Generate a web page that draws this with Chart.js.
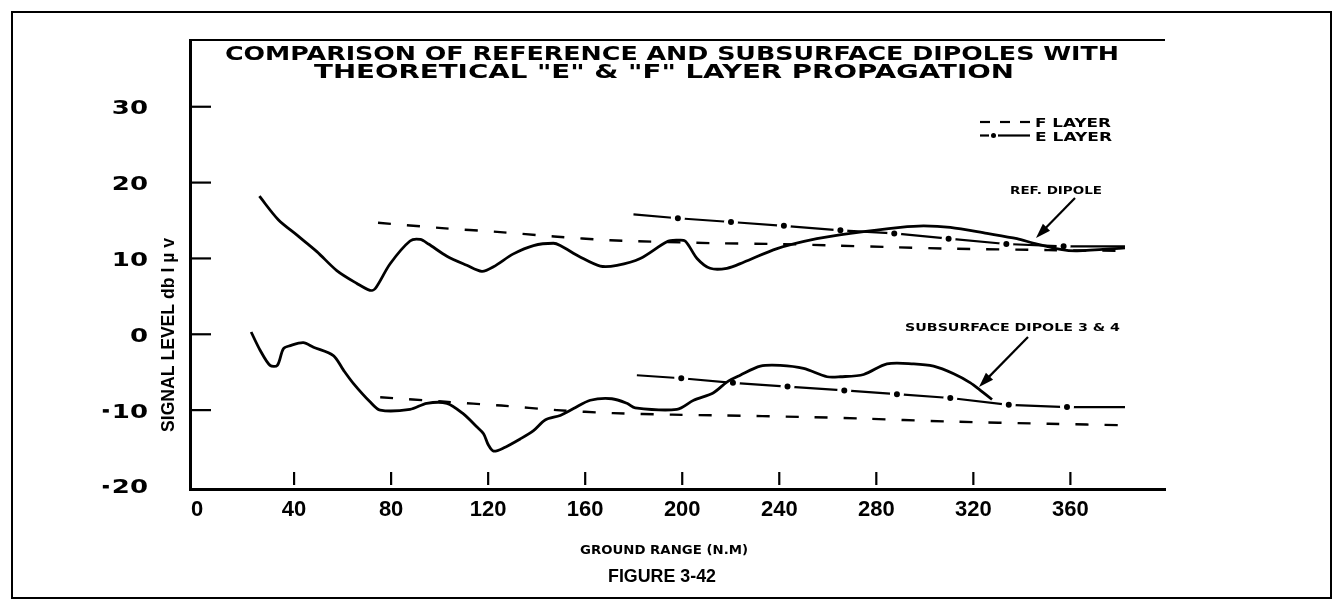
<!DOCTYPE html>
<html>
<head>
<meta charset="utf-8">
<script src="https://cdn.jsdelivr.net/npm/chart.js@4.4.0/dist/chart.umd.min.js"></script>
<style>
html, body { margin: 0; padding: 0; background: #fff; }
#wrap { width: 1343px; height: 610px; position: relative; }
</style>
</head>
<body>
<div id="wrap"><canvas id="c"></canvas></div>
<script>
// graduations
const xTicks = [0, 40, 80, 120, 160, 200, 240, 280, 320, 360];
const yTicks = [-20, -10, 0, 10, 20, 30];

// dipôle de référence (courbe pleine du haut)
const refX = [25.7, 33.5, 41.1, 49.4, 57.6, 65.9, 71.3, 73.4, 79.6, 87.8, 92, 95.4, 103, 111.2, 117.4, 122.2, 130.4, 138.7, 146.9, 149.7, 157.9, 166.2, 173.1, 182.7, 193.7, 197.8, 201.2, 206.1, 211.5, 218.4, 225.3, 239.1, 255.5, 269.3, 289.9, 299.5, 310.5, 325.6, 338, 344.9, 355.9, 362.8, 382.5];
const refY = [18.2, 15.1, 13.1, 10.9, 8.4, 6.7, 5.8, 6.0, 9.3, 12.3, 12.5, 11.9, 10.3, 9.1, 8.3, 8.9, 10.6, 11.7, 12.0, 11.7, 10.2, 9.0, 9.1, 10.0, 12.2, 12.4, 12.3, 10.0, 8.7, 8.7, 9.5, 11.3, 12.6, 13.3, 14.1, 14.3, 14.1, 13.3, 12.6, 12.0, 11.2, 11.0, 11.4];

// dipôle enterré 3 & 4 (courbe pleine du bas)
const subX = [22.3, 26, 30.1, 33.1, 35.6, 38.4, 43.8, 48, 56.2, 60.3, 64.5, 71.3, 75.5, 87.8, 94.7, 103, 109.8, 115.3, 118.1, 120.1, 122.2, 126.3, 133.2, 138.7, 143.5, 149.7, 155.2, 162.1, 171, 177.2, 180.6, 197.8, 204.7, 212.9, 218.4, 223.9, 232.2, 240.4, 250, 259.7, 265.2, 274.8, 284.4, 295.4, 303.6, 311.9, 318.8, 322.9, 327.7];
const subY = [0.3, -2.1, -4.1, -4.1, -1.9, -1.5, -1.1, -1.7, -2.8, -4.7, -6.5, -8.9, -10.0, -9.9, -9.1, -9.1, -10.5, -12.2, -13.1, -14.6, -15.4, -15.0, -13.8, -12.7, -11.3, -10.7, -9.8, -8.7, -8.5, -9.1, -9.7, -9.9, -8.7, -7.7, -6.3, -5.4, -4.2, -4.1, -4.5, -5.6, -5.6, -5.3, -3.9, -3.9, -4.2, -5.2, -6.4, -7.4, -8.6];

// couche F théorique
const fUpX = [74.6, 101, 123.7, 147.2, 170.3, 214.6, 240.4, 262.3, 285, 309.7, 350.9, 382.5];
const fUpY = [14.7, 14.0, 13.5, 12.9, 12.4, 12.0, 11.9, 11.7, 11.5, 11.3, 11.1, 11.0];
const fLoX = [75.5, 102.3, 125.4, 148.3, 171.5, 195.9, 216.5, 249.5, 273, 309.7, 351, 382.5];
const fLoY = [-8.3, -8.9, -9.4, -10.0, -10.4, -10.6, -10.7, -10.9, -11.1, -11.5, -11.8, -12.0];

// couche E théorique
const eUpX = [179.9, 198.2, 220.1, 241.9, 265.2, 287.4, 309.8, 333.6, 357.2, 382.5];
const eUpY = [15.8, 15.3, 14.8, 14.3, 13.7, 13.3, 12.6, 11.9, 11.6, 11.6];
const eLoX = [181.3, 199.6, 220.9, 243.4, 266.8, 288.5, 310.5, 334.6, 358.6, 382.5];
const eLoY = [-5.4, -5.8, -6.4, -6.9, -7.4, -7.9, -8.4, -9.3, -9.6, -9.6];

const pts = (xs, ys) => xs.map((x, i) => ({ x: x, y: ys[i] }));

// texte étiré horizontalement pour imiter la police large du document
function drawText(ctx, txt, x, y, font, sx, align) {
    ctx.save();
    ctx.font = font;
    ctx.textBaseline = 'alphabetic';
    ctx.textAlign = 'left';
    const w = ctx.measureText(txt).width * sx;
    const left = align === 'center' ? x - w / 2 : (align === 'right' ? x - w : x);
    ctx.translate(left, y);
    ctx.scale(sx, 1);
    ctx.fillStyle = '#000';
    ctx.fillText(txt, 0, 0);
    ctx.restore();
    return left;
}
function fitScale(ctx, txt, font, width) {
    ctx.save();
    ctx.font = font;
    const w = ctx.measureText(txt).width;
    ctx.restore();
    return width / w;
}
function arrow(ctx, x1, y1, x2, y2) {
    const a = Math.atan2(y2 - y1, x2 - x1);
    ctx.save();
    ctx.strokeStyle = '#000';
    ctx.lineWidth = 2.2;
    ctx.beginPath();
    ctx.moveTo(x1, y1);
    ctx.lineTo(x2 - 10 * Math.cos(a), y2 - 10 * Math.sin(a));
    ctx.stroke();
    ctx.fillStyle = '#000';
    ctx.beginPath();
    ctx.moveTo(x2, y2);
    ctx.lineTo(x2 - 15 * Math.cos(a) + 5 * Math.sin(a), y2 - 15 * Math.sin(a) - 5 * Math.cos(a));
    ctx.lineTo(x2 - 15 * Math.cos(a) - 5 * Math.sin(a), y2 - 15 * Math.sin(a) + 5 * Math.cos(a));
    ctx.closePath();
    ctx.fill();
    ctx.restore();
}

const decor = {
    id: 'decor',
    beforeDraw(chart) {
        const ctx = chart.ctx;
        const a = chart.chartArea;
        ctx.save();
        ctx.fillStyle = '#fff';
        ctx.fillRect(0, 0, chart.width, chart.height);
        ctx.strokeStyle = '#000';
        ctx.lineWidth = 2;
        ctx.strokeRect(12, 12, chart.width - 24, chart.height - 24);
        // bord supérieur du cadre du graphique
        ctx.beginPath();
        ctx.moveTo(a.left, a.top);
        ctx.lineTo(a.right, a.top);
        ctx.stroke();
        ctx.restore();
    },
    afterDraw(chart) {
        const ctx = chart.ctx;
        const a = chart.chartArea;
        const xs = chart.scales.x, ys = chart.scales.y;
        ctx.save();
        ctx.strokeStyle = '#000';
        ctx.lineWidth = 2.2;
        // graduations vers l'intérieur
        yTicks.forEach(v => {
            const py = ys.getPixelForValue(v);
            if (v === yTicks[0]) return;
            ctx.beginPath();
            ctx.moveTo(a.left, py);
            ctx.lineTo(a.left + 21, py);
            ctx.stroke();
        });
        xTicks.forEach(v => {
            if (v === 0) return;
            const px = xs.getPixelForValue(v);
            ctx.beginPath();
            ctx.moveTo(px, a.bottom - 17);
            ctx.lineTo(px, a.bottom - 4);
            ctx.stroke();
        });
        ctx.restore();

        // étiquettes de l'axe Y (chiffres larges, signe moins court)
        const tkf = 'bold 20px "DejaVu Sans"';
        yTicks.forEach(v => {
            const py = ys.getPixelForValue(v);
            const left = drawText(ctx, String(Math.abs(v)), 148, py + 7.5, tkf, 1.3, 'right');
            if (v < 0) {
                ctx.fillStyle = '#000';
                ctx.fillRect(left - 9, py - 1, 6, 3.5);
            }
        });

        // titre
        const tf = 'bold 19px "DejaVu Sans"';
        const l1 = 'COMPARISON OF REFERENCE AND SUBSURFACE DIPOLES WITH';
        const l2 = 'THEORETICAL "E" & "F" LAYER PROPAGATION';
        drawText(ctx, l1, 672, 60, tf, fitScale(ctx, l1, tf, 894), 'center');
        drawText(ctx, l2, 664, 78, tf, fitScale(ctx, l2, tf, 700), 'center');

        // légende
        const lf = 'bold 12px "DejaVu Sans"';
        ctx.save();
        ctx.strokeStyle = '#000';
        ctx.lineWidth = 2.2;
        [[980, 990], [1000, 1010], [1020, 1030]].forEach(d => {
            ctx.beginPath(); ctx.moveTo(d[0], 122); ctx.lineTo(d[1], 122); ctx.stroke();
        });
        ctx.beginPath(); ctx.moveTo(980, 135.5); ctx.lineTo(989, 135.5); ctx.stroke();
        ctx.beginPath(); ctx.moveTo(998, 135.5); ctx.lineTo(1030, 135.5); ctx.stroke();
        ctx.beginPath(); ctx.arc(993.5, 135.5, 2.5, 0, Math.PI * 2); ctx.fillStyle = '#000'; ctx.fill();
        ctx.restore();
        drawText(ctx, 'F LAYER', 1035, 127, lf, fitScale(ctx, 'F LAYER', lf, 76), 'left');
        drawText(ctx, 'E LAYER', 1035, 140.5, lf, fitScale(ctx, 'E LAYER', lf, 77), 'left');

        // annotations
        const af = 'bold 10px "DejaVu Sans"';
        drawText(ctx, 'REF. DIPOLE', 1010, 194, af, fitScale(ctx, 'REF. DIPOLE', af, 92), 'left');
        arrow(ctx, 1075, 198, 1036, 238);
        drawText(ctx, 'SUBSURFACE DIPOLE 3 & 4', 905, 331, af, fitScale(ctx, 'SUBSURFACE DIPOLE 3 & 4', af, 215), 'left');
        arrow(ctx, 1028, 337, 979, 387);

        // titres des axes
        const yf = 'bold 18px "Liberation Sans Narrow", "Liberation Sans"';
        const yt = 'SIGNAL LEVEL db I \u00b5 v';
        ctx.save();
        ctx.translate(174, 335);
        ctx.rotate(-Math.PI / 2);
        drawText(ctx, yt, 0, 0, yf, fitScale(ctx, yt, yf, 194), 'center');
        ctx.restore();
        const xf = 'bold 12px "DejaVu Sans"';
        drawText(ctx, 'GROUND RANGE (N.M)', 664, 554, xf, fitScale(ctx, 'GROUND RANGE (N.M)', xf, 168), 'center');
        const ff = 'bold 18px "Liberation Sans"';
        drawText(ctx, 'FIGURE 3-42', 662, 582, ff, fitScale(ctx, 'FIGURE 3-42', ff, 108), 'center');
    }
};

const dotRadius = n => c => (c.dataIndex === 0 || c.dataIndex === n - 1) ? 0 : 5;

new Chart(document.getElementById('c'), {
    type: 'line',
    data: {
        datasets: [
            { data: pts(refX, refY), borderColor: '#000', borderWidth: 2.8, pointRadius: 0, tension: 0.3 },
            { data: pts(subX, subY), borderColor: '#000', borderWidth: 2.8, pointRadius: 0, tension: 0.3 },
            { data: pts(fUpX, fUpY), borderColor: '#000', borderWidth: 2.4, borderDash: [13, 16], pointRadius: 0, tension: 0.3 },
            { data: pts(fLoX, fLoY), borderColor: '#000', borderWidth: 2.4, borderDash: [13, 16], pointRadius: 0, tension: 0.3 },
            { data: pts(eUpX, eUpY), borderColor: '#000', borderWidth: 2.2, pointRadius: dotRadius(eUpX.length), pointBackgroundColor: '#000', pointBorderColor: '#fff', pointBorderWidth: 4, tension: 0 },
            { data: pts(eLoX, eLoY), borderColor: '#000', borderWidth: 2.2, pointRadius: dotRadius(eLoX.length), pointBackgroundColor: '#000', pointBorderColor: '#fff', pointBorderWidth: 4, tension: 0 }
        ]
    },
    options: {
        responsive: true,
        maintainAspectRatio: false,
        animation: false,
        devicePixelRatio: 1,
        layout: { padding: { left: 0, top: 40, right: 178, bottom: 81 } },
        plugins: { legend: { display: false }, tooltip: { enabled: false }, title: { display: false } },
        scales: {
            x: {
                type: 'linear', min: -2.9, max: 399,
                afterBuildTicks: s => { s.ticks = xTicks.map(v => ({ value: v })); },
                afterFit: s => { s.height = 40; s.paddingLeft = 0; s.paddingRight = 0; },
                grid: { display: false, drawTicks: false },
                border: { display: true, width: 3, color: '#000' },
                ticks: { padding: 8, color: '#000', maxRotation: 0, autoSkip: false, font: { family: 'Liberation Sans', weight: 'bold', size: 22 } }
            },
            y: {
                type: 'linear', min: -20.4, max: 38.8,
                afterBuildTicks: s => { s.ticks = yTicks.map(v => ({ value: v })); },
                afterFit: s => { s.width = 190; s.paddingTop = 0; s.paddingBottom = 0; },
                grid: { display: false, drawTicks: false },
                border: { display: true, width: 3, color: '#000' },
                ticks: { display: false }
            }
        }
    },
    plugins: [decor]
});
</script>
</body>
</html>
